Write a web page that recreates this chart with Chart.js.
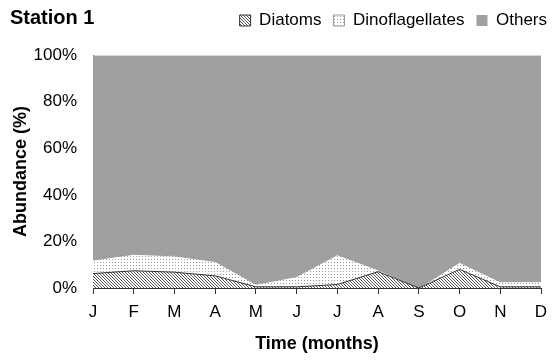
<!DOCTYPE html>
<html><head><meta charset="utf-8">
<script src="https://cdn.jsdelivr.net/npm/chart.js@4.4.1/dist/chart.umd.min.js"></script>
<style>
html,body{margin:0;padding:0;background:#fff;}
#wrap{position:relative;width:559px;height:360px;}
#title{position:absolute;left:10px;top:6px;font:bold 20px "Liberation Sans",Arial,sans-serif;color:#000;}
</style></head>
<body><div id="wrap"><canvas id="c" width="559" height="360"></canvas><div id="title">Station 1</div></div>
<script>
const months = ["J","F","M","A","M","J","J","A","S","O","N","D"];
const diatoms = [6.2, 7.4, 6.8, 5.2, 0.5, 0.5, 1.5, 7.0, 0, 8.0, 0.5, 0.5];
const dinoflagellates = [5.8, 7.1, 7.0, 6.2, 1.1, 4.4, 12.8, 0.8, 0, 3.0, 2.2, 2.2];
const others = [88.0, 85.5, 86.2, 88.6, 98.4, 95.1, 85.7, 92.2, 100, 89.0, 97.3, 97.3];
const yTicks = [0, 20, 40, 60, 80, 100];

function hatch(){
  const c=document.createElement('canvas');c.width=3;c.height=3;
  const g=c.getContext('2d');g.fillStyle='#fff';g.fillRect(0,0,3,3);
  g.fillStyle='#555';
  for(let i=0;i<3;i++){g.fillRect(i,i,1,1);}
  return g.createPattern(c,'repeat');
}
function dots(){
  const c=document.createElement('canvas');c.width=3;c.height=3;
  const g=c.getContext('2d');g.fillStyle='#fff';g.fillRect(0,0,3,3);
  g.fillStyle='#999';g.fillRect(1,1,1,1);
  return g.createPattern(c,'repeat');
}
const FONT="'Liberation Sans', Arial, sans-serif";
new Chart(document.getElementById('c'),{
  type:'line',
  data:{labels:months,datasets:[
    {label:'Diatoms',data:diatoms,backgroundColor:hatch(),borderColor:'#333',borderWidth:1,fill:'origin',pointRadius:0,tension:0},
    {label:'Dinoflagellates',data:dinoflagellates,backgroundColor:dots(),borderColor:'#999',borderWidth:1,fill:'-1',pointRadius:0,tension:0},
    {label:'Others',data:others,backgroundColor:'#a0a0a0',borderColor:'#a0a0a0',borderWidth:0,fill:'-1',pointRadius:0,tension:0}
  ]},
  options:{
    responsive:false,animation:false,
    layout:{padding:{left:0,right:0,top:0,bottom:0}},
    plugins:{
      tooltip:{enabled:false},
      legend:{position:'top',align:'end',weight:3000,
        labels:{boxWidth:11,boxHeight:11,padding:12,color:'#000',font:{family:FONT,size:17}}},
      title:{display:true,text:' ',font:{size:1},padding:{top:0,bottom:15}}
    },
    scales:{
      x:{type:'category',offset:false,
        grid:{display:true,drawOnChartArea:false,drawTicks:true,tickLength:6,color:'#333'},
        border:{display:true,color:'#333',width:1},
        ticks:{color:'#000',font:{family:FONT,size:17},maxRotation:0,autoSkip:false,padding:8},
        title:{display:true,text:'Time (months)',color:'#000',font:{family:FONT,size:18,weight:'bold'},padding:{top:2,bottom:5}},
        afterFit:(s)=>{s.height=72;s.paddingRight=18;}
      },
      y:{stacked:true,min:0,max:100,
        afterBuildTicks:(s)=>{s.ticks=yTicks.map(v=>({value:v}));},
        grid:{display:false},
        border:{display:true,color:'#555',width:1},
        ticks:{color:'#000',font:{family:FONT,size:17},padding:8,callback:(v)=>v+'%'},
        title:{display:true,text:'Abundance (%)',color:'#000',font:{family:FONT,size:18,weight:'bold'},padding:{top:10,bottom:4}},
        afterFit:(s)=>{s.width=93;}
      }
    }
  }
});
</script></body></html>
